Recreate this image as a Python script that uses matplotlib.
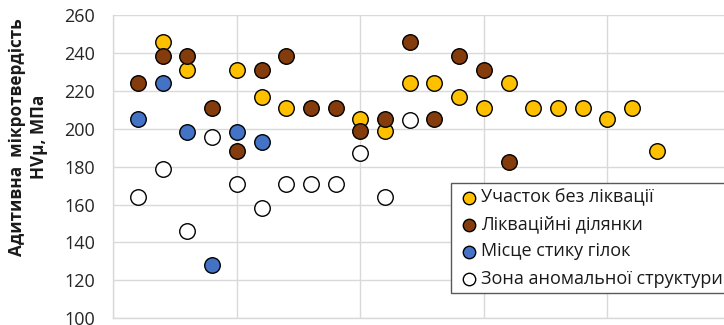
import matplotlib
matplotlib.use("Agg")
import matplotlib.pyplot as plt

plt.rcParams['font.family'] = ['Open Sans', 'DejaVu Sans']

# Measurement positions and additive microhardness values (MPa)
no_segregation_x = [2, 3, 5, 6, 7, 10, 11, 12, 13, 14, 15, 16, 17, 18, 19, 20, 21, 22]
no_segregation_hv = [246, 231, 231, 217, 211, 205, 199, 224, 224, 217, 211, 224, 211, 211, 211, 205, 211, 188]

segregation_x = [1, 2, 3, 4, 5, 6, 7, 8, 9, 10, 11, 12, 13, 14, 15, 16]
segregation_hv = [224, 238.5, 238.5, 211, 188, 231, 238.5, 211, 211, 199, 205, 246, 205, 238.5, 231, 182.5]

junction_x = [1, 2, 3, 4, 5, 6]
junction_hv = [205, 224, 198.5, 128, 198.5, 193]

anomalous_x = [1, 2, 3, 4, 5, 6, 7, 8, 9, 10, 11, 12]
anomalous_hv = [164, 179, 146, 195.5, 171, 158, 171, 171, 171, 187, 164, 204.5]

series_labels = ["Участок без ліквації", "Ліквацийні ділянки".replace("цийні", "ційні"),
                 "Місце стику гілок", "Зона аномальної структури"]
y_ticks = [100, 120, 140, 160, 180, 200, 220, 240, 260]

W, H = 724, 325
fig = plt.figure(figsize=(W / 100, H / 100), dpi=100)
ax = fig.add_axes([113.3 / W, (H - 318.3) / H, 1 - 113.3 / W, (318.3 - 15) / H])

grid_c = "#D9D9D9"
ax.set_ylim(100, 260)
ax.set_xlim(0, (W - 113.3) / 24.7)
ax.set_yticks(y_ticks)
ax.set_xticks([0, 5, 10, 15, 20])
ax.set_xticklabels([])
ax.tick_params(axis="both", length=0)
ax.tick_params(axis="y", pad=13, labelsize=13, labelcolor="#262626")
ax.grid(True, color=grid_c, linewidth=1)
ax.set_axisbelow(True)
for side in ("top", "right"):
    ax.spines[side].set_visible(False)
for side in ("left", "bottom"):
    ax.spines[side].set_color(grid_c)
    ax.spines[side].set_linewidth(1)

ms = 125
ax.scatter(no_segregation_x, no_segregation_hv, s=ms, c="#FFC000", edgecolors="black",
           linewidths=1.0, label=series_labels[0], zorder=3)
ax.scatter(segregation_x, segregation_hv, s=ms, c="#843C0C", edgecolors="black",
           linewidths=1.0, label=series_labels[1], zorder=3)
ax.scatter(junction_x, junction_hv, s=ms, c="#4472C4", edgecolors="black",
           linewidths=1.0, label=series_labels[2], zorder=3)
ax.scatter(anomalous_x, anomalous_hv, s=ms, c="white", edgecolors="black",
           linewidths=1.0, label=series_labels[3], zorder=3)

leg = ax.legend(loc="upper left", bbox_to_anchor=(451 / W, 1 - 183 / H),
                bbox_transform=fig.transFigure, fontsize=13, markerscale=0.8,
                labelspacing=0.5, handletextpad=0.0, handlelength=1.35,
                borderpad=0.3, borderaxespad=0, fancybox=False, framealpha=1)
leg.get_frame().set_edgecolor("#595959")
leg.get_frame().set_linewidth(1)
for t in leg.get_texts():
    t.set_color("#1a1a1a")

fig.text(28 / W, 1 - 137 / H, "Адитивна  мікротвердість\nHVμ, МПа", rotation=90,
         ha="center", va="center", multialignment="center", fontsize=12.3,
         fontweight="bold", color="#1a1a1a", linespacing=1.3)

fig.savefig("out.png", dpi=100)
